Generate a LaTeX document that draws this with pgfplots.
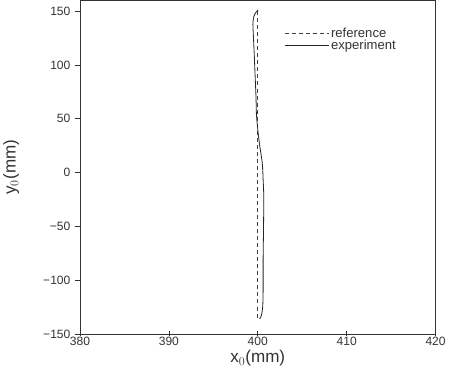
\documentclass[border=0pt]{standalone}
\usepackage{pgfplots}
\pgfplotsset{compat=1.18}
\usepackage{fontspec}
\setmainfont{Liberation Sans}
\begin{document}
\begin{tikzpicture}
\begin{axis}[
  scale only axis,
  width=354pt, height=332pt,
  xmin=380, xmax=420, ymin=-150, ymax=160,
  xtick={380,390,400,410,420},
  ytick={-150,-100,-50,0,50,100,150},
  yticklabels={−150,−100,−50,0,50,100,150},
  minor tick num=0,
  axis line style={black!80, line width=0.8pt},
  xtick pos=bottom, ytick pos=left,
  tick style={black!80, line width=0.6pt},
  major tick length=5pt,
  xtick align=center, ytick align=outside,
  /pgf/number format/assume math mode=true,
  /pgf/number format/set thousands separator={},
  tick label style={font=\fontsize{12}{14}\selectfont, text=black!80},
  xticklabel style={yshift=3pt},
  yticklabel style={xshift=-1pt},
  xlabel={x$_0$(mm)},
  ylabel={y$_0$(mm)},
  label style={font=\fontsize{17}{19}\selectfont, text=black!80},
  xlabel style={yshift=2pt},
  ylabel style={yshift=17pt},
  legend style={draw=none, fill=none, at={(0.565,0.93)}, anchor=north west,
    font=\fontsize{13}{15}\selectfont, text=black!80, row sep=-3pt},
  legend cell align=left,
  legend image code/.code={\draw[#1] (0pt,0pt) -- (44pt,0pt);},
]
\addplot[black!75, dash pattern=on 4pt off 3pt, line width=0.6pt] coordinates {
 (400,150) (400,100) (400,50) (400,0) (400,-50) (400,-100) (400,-135)
};
\addlegendentry{reference}
\addplot[black!85, line width=0.8pt, smooth] coordinates {
 (400.05,151) (399.8,149) (399.55,145) (399.45,138) (399.5,128) (399.6,110)
 (399.66,98) (399.8,70) (399.85,54) (400.0,40) (400.2,26) (400.5,9)
 (400.62,-10) (400.67,-22) (400.65,-50) (400.6,-80) (400.6,-110)
 (400.55,-125) (400.4,-133) (400.2,-136)
};
\addlegendentry{experiment}
\end{axis}
\end{tikzpicture}
\end{document}
